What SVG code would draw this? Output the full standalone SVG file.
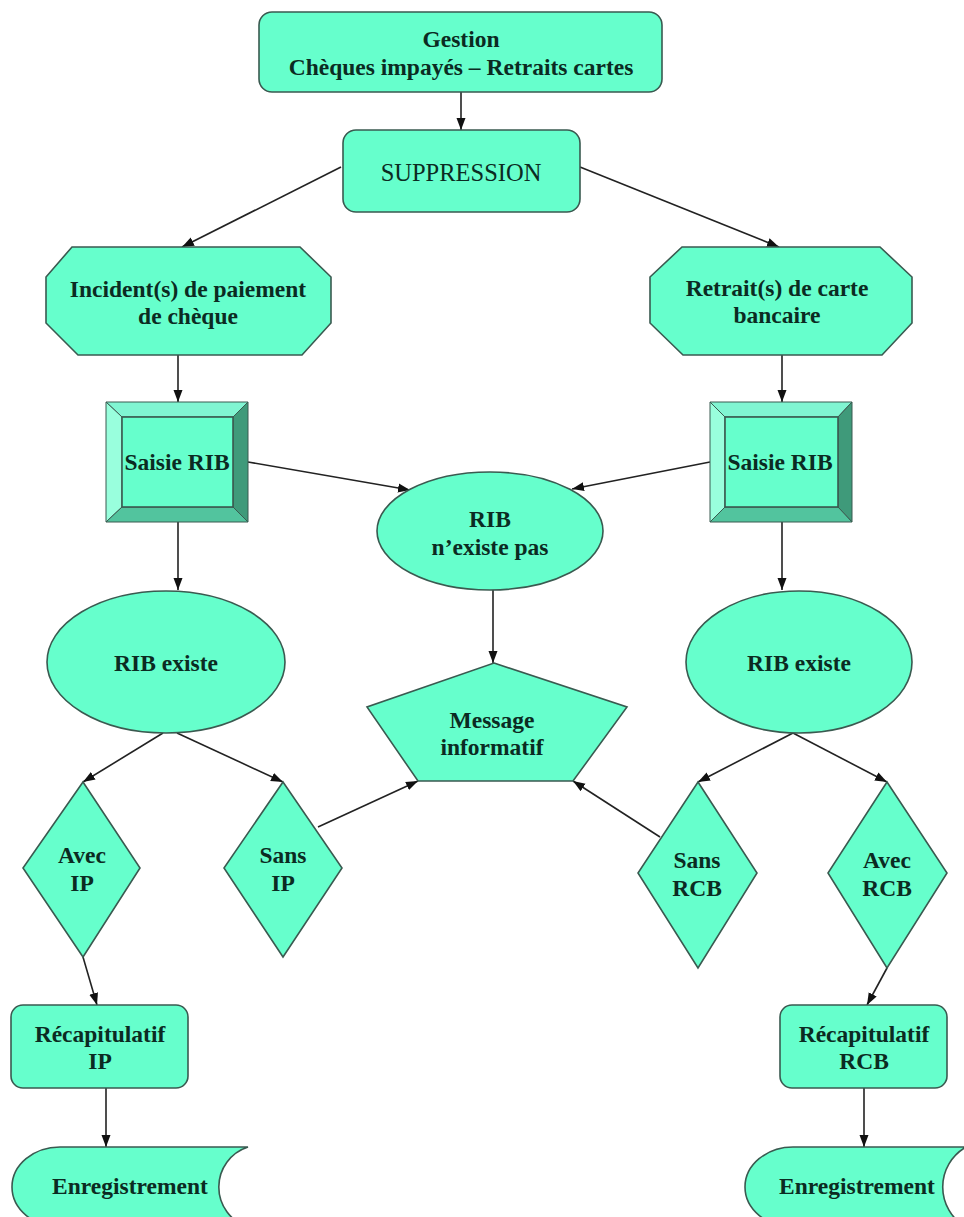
<svg xmlns="http://www.w3.org/2000/svg" width="964" height="1217" viewBox="0 0 964 1217">
<defs>
<marker id="arr" markerWidth="13" markerHeight="11" refX="12" refY="5.5" orient="auto" markerUnits="userSpaceOnUse">
<path d="M0,1 L12,5.5 L0,10 Z" fill="#111"/>
</marker>
<style>
.n{fill:#66FFCC;stroke:#3A5A50;stroke-width:1.6}
.t{font-family:"Liberation Serif","Times New Roman",serif;font-weight:bold;font-size:23.5px;fill:#0B2B22;text-anchor:middle}
.r{font-weight:normal;font-size:24.5px}
.c{stroke:#222;stroke-width:1.6;fill:none;marker-end:url(#arr)}
.bl{fill:#99FFDD;stroke:#3A5A50;stroke-width:1}
.bt{fill:#80F5D2;stroke:#3A5A50;stroke-width:1}
.br{fill:#3F9A7A;stroke:#3A5A50;stroke-width:1}
.bb{fill:#52C49E;stroke:#3A5A50;stroke-width:1}
</style>
</defs>
<rect width="964" height="1217" fill="#fff"/>
<g id="connectors">
<line class="c" x1="461" y1="92" x2="461" y2="130"/>
<line class="c" x1="341" y1="167" x2="182" y2="247"/>
<line class="c" x1="580" y1="167" x2="779" y2="247"/>
<line class="c" x1="178" y1="355" x2="178" y2="402"/>
<line class="c" x1="782" y1="355" x2="782" y2="402"/>
<line class="c" x1="248" y1="462" x2="410" y2="490"/>
<line class="c" x1="710" y1="462" x2="572" y2="489"/>
<line class="c" x1="178" y1="522" x2="178" y2="590"/>
<line class="c" x1="782" y1="522" x2="782" y2="590"/>
<line class="c" x1="493" y1="590" x2="493" y2="663"/>
<line class="c" x1="163" y1="733" x2="83" y2="782"/>
<line class="c" x1="177" y1="733" x2="283" y2="782"/>
<line class="c" x1="793" y1="733" x2="698" y2="782"/>
<line class="c" x1="793" y1="733" x2="887" y2="782"/>
<line class="c" x1="318" y1="827" x2="418" y2="781"/>
<line class="c" x1="660" y1="837" x2="573" y2="781"/>
<line class="c" x1="83" y1="957" x2="97" y2="1005"/>
<line class="c" x1="887" y1="968" x2="867" y2="1005"/>
<line class="c" x1="106" y1="1088" x2="106" y2="1147"/>
<line class="c" x1="864" y1="1088" x2="864" y2="1147"/>
</g>
<g id="gestion">
<rect class="n" x="259" y="12" width="403" height="80" rx="13"/>
<text class="t" x="461" y="47">Gestion</text>
<text class="t" x="461" y="75">Chèques impayés – Retraits cartes</text>
</g>
<g id="suppression">
<rect class="n" x="343" y="130" width="237" height="82" rx="13"/>
<text class="t r" x="461" y="181">SUPPRESSION</text>
</g>
<g id="incidents">
<polygon class="n" points="72,247 300,247 331,277 331,323 302,355 78,355 46,323 46,277"/>
<text class="t" x="188" y="297">Incident(s) de paiement</text>
<text class="t" x="188" y="324">de chèque</text>
</g>
<g id="retraits">
<polygon class="n" points="682,247 880,247 912,277 912,323 882,355 683,355 650,323 650,277"/>
<text class="t" x="777" y="296">Retrait(s) de carte</text>
<text class="t" x="777" y="323">bancaire</text>
</g>
<g id="saisie-rib-left">
<polygon class="bt" points="106,402 248,402 233,417 122,417"/>
<polygon class="bl" points="106,402 122,417 122,507 106,522"/>
<polygon class="br" points="248,402 248,522 233,507 233,417"/>
<polygon class="bb" points="106,522 248,522 233,507 122,507"/>
<rect class="n" x="122" y="417" width="111" height="90"/>
<text class="t" x="177" y="470">Saisie RIB</text>
</g>
<g id="saisie-rib-right">
<polygon class="bt" points="710,402 852,402 838,417 725,417"/>
<polygon class="bl" points="710,402 725,417 725,507 710,522"/>
<polygon class="br" points="852,402 852,522 838,507 838,417"/>
<polygon class="bb" points="710,522 852,522 838,507 725,507"/>
<rect class="n" x="725" y="417" width="113" height="90"/>
<text class="t" x="780" y="470">Saisie RIB</text>
</g>
<g id="rib-nexiste-pas">
<ellipse class="n" cx="490" cy="531" rx="113" ry="59"/>
<text class="t" x="490" y="527">RIB</text>
<text class="t" x="490" y="555">n’existe pas</text>
</g>
<g id="message-informatif">
<polygon class="n" points="494,663 627,707 573,781 418,781 367,707"/>
<text class="t" x="492" y="728">Message</text>
<text class="t" x="492" y="755">informatif</text>
</g>
<g id="rib-existe-left">
<ellipse class="n" cx="166" cy="662" rx="119" ry="71"/>
<text class="t" x="166" y="671">RIB existe</text>
</g>
<g id="rib-existe-right">
<ellipse class="n" cx="799" cy="662" rx="113" ry="71"/>
<text class="t" x="799" y="671">RIB existe</text>
</g>
<g id="avec-ip">
<polygon class="n" points="83,782 140,868 83,957 23,868"/>
<text class="t" x="82" y="863">Avec</text>
<text class="t" x="82" y="891">IP</text>
</g>
<g id="sans-ip">
<polygon class="n" points="283,782 342,868 283,957 224,868"/>
<text class="t" x="283" y="863">Sans</text>
<text class="t" x="283" y="891">IP</text>
</g>
<g id="sans-rcb">
<polygon class="n" points="698,782 757,873 698,968 638,873"/>
<text class="t" x="697" y="868">Sans</text>
<text class="t" x="697" y="896">RCB</text>
</g>
<g id="avec-rcb">
<polygon class="n" points="887,782 947,873 887,968 828,873"/>
<text class="t" x="887" y="868">Avec</text>
<text class="t" x="887" y="896">RCB</text>
</g>
<g id="recap-ip">
<rect class="n" x="11" y="1005" width="177" height="83" rx="12"/>
<text class="t" x="100" y="1042">Récapitulatif</text>
<text class="t" x="100" y="1069">IP</text>
</g>
<g id="recap-rcb">
<rect class="n" x="780" y="1005" width="167" height="83" rx="12"/>
<text class="t" x="864" y="1042">Récapitulatif</text>
<text class="t" x="864" y="1069">RCB</text>
</g>
<g id="enregistrement-left">
<path class="n" d="M60,1147 H248 A42 42 0 0 0 248,1227 H60 A48 40 0 0 1 60,1147 Z"/>
<text class="t" x="130" y="1194">Enregistrement</text>
</g>
<g id="enregistrement-right">
<path class="n" d="M793,1147 H966 A46 46 0 0 0 966,1227 H793 A48 40 0 0 1 793,1147 Z"/>
<text class="t" x="857" y="1194">Enregistrement</text>
</g>
</svg>
